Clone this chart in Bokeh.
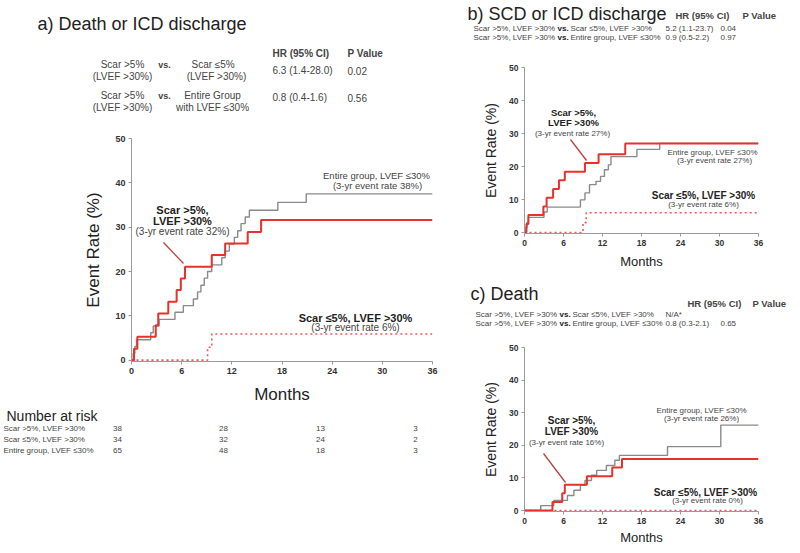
from bokeh.plotting import figure
from bokeh.models import Label, FixedTicker, Range1d
from bokeh.layouts import row, column
from bokeh.embed import file_html
from bokeh.resources import INLINE

FONT = "Liberation Sans"
RED = "#e8302c"
RED_DOT = "#e85a55"
GRAY = "#8a8a8a"
PTR = "#b8443e"
TXT = "#333333"
AXC = "#9a9a9a"
HC = "#444444"
DK = "#222222"
Y0 = -0.3

# ---------------- data (months, event rate %) ----------------
# a) Death or ICD discharge
a_red_t = [0.3, 0.7, 2.9, 3.2, 4.4, 5.4, 5.9, 6.4, 9.6, 11.2, 13.9, 15.5]
a_red_v = [2.6, 5.3, 7.9, 10.5, 13.2, 15.8, 18.4, 21.1, 23.7, 26.3, 28.9, 31.6]
a_gray_t = [0.2, 0.4, 0.6, 2.3, 2.6, 3.3, 5.2, 6.2, 7.4, 7.9, 8.3, 8.7, 9.1, 9.6,
            10.8, 11.2, 11.7, 12.3, 12.7, 13.1, 13.6, 14.1, 17.5, 20.9]
a_gray_v = [1.5, 3.1, 4.6, 6.2, 7.7, 9.2, 10.8, 12.3, 13.8, 15.4, 16.9, 18.5, 20.0, 21.5,
            23.1, 24.6, 26.2, 27.7, 29.2, 30.8, 32.3, 33.8, 35.6, 37.5]
a_dot_t = [9.1, 9.6]
a_dot_v = [2.9, 5.9]

# b) SCD or ICD discharge
b_red_t = [0.3, 0.6, 2.9, 3.4, 4.4, 5.3, 6.2, 9.3, 11.4, 15.5]
b_red_v = [2.6, 5.3, 7.9, 10.5, 13.2, 15.8, 18.4, 21.1, 23.7, 27.0]
b_gray_t = [0.2, 0.4, 0.6, 3.0, 3.5, 8.6, 9.3, 10.0, 11.0, 11.7, 12.3, 12.9, 13.3, 17.3, 20.8]
b_gray_v = [1.5, 3.1, 4.6, 6.2, 7.7, 9.9, 12.0, 14.5, 15.5, 17.0, 19.0, 20.5, 23.0, 25.2, 27.0]
b_dot_t = [9.0, 9.5]
b_dot_v = [3.0, 6.0]

# c) Death
c_red_t = [4.3, 5.8, 6.2, 9.6, 13.5, 15.0]
c_red_v = [2.6, 5.3, 7.9, 10.5, 13.2, 15.8]
c_gray_t = [2.5, 4.5, 6.6, 7.6, 8.6, 9.3, 10.3, 11.1, 12.6, 13.9, 14.6, 22.0, 30.2]
c_gray_v = [1.5, 3.1, 4.6, 6.2, 7.7, 9.2, 10.8, 12.3, 13.8, 15.4, 16.9, 19.6, 26.2]
c_dot_t = []
c_dot_v = []

x_ticks = [0, 6, 12, 18, 24, 30, 36]
y_ticks = [0, 10, 20, 30, 40, 50]

# number at risk
risk_groups = ["Scar >5%, LVEF >30%", "Scar \u22645%, LVEF >30%", "Entire group, LVEF \u226430%"]
risk_scar_hi = [38, 28, 13, 3]
risk_scar_lo = [34, 32, 24, 2]
risk_entire = [65, 48, 18, 3]


def steps(t, v):
    xs = [0] + list(t) + [36]
    ys = [0] + list(v) + [v[-1] if v else 0]
    return xs, ys


def make_fig(fw, fh, bl, bt, br, bb, tick_size, lab_size_y, lab_size_x, y_stand, x_stand):
    p = figure(frame_width=fw, frame_height=fh, x_range=Range1d(0, 36), y_range=Range1d(Y0, 50),
               min_border_left=bl, min_border_top=bt, min_border_right=br, min_border_bottom=bb,
               output_backend="svg", toolbar_location=None, title=None)
    p.frame_align = False
    p.xaxis.ticker = FixedTicker(ticks=x_ticks)
    p.yaxis.ticker = FixedTicker(ticks=y_ticks)
    p.xgrid.visible = False
    p.ygrid.visible = False
    p.outline_line_color = None
    for ax in (p.xaxis[0], p.yaxis[0]):
        ax.minor_tick_line_color = None
        ax.major_tick_in = 0
        ax.major_tick_out = 3
        ax.axis_line_color = AXC
        ax.major_tick_line_color = AXC
        ax.major_label_text_font = FONT
        ax.major_label_text_font_style = "bold"
        ax.major_label_text_font_size = tick_size
        ax.major_label_text_color = TXT
        ax.major_label_standoff = 3
        ax.axis_label_text_font = FONT
        ax.axis_label_text_font_style = "normal"
        ax.axis_label_text_color = DK
    p.yaxis.axis_label = "Event Rate (%)"
    p.xaxis.axis_label = "Months"
    p.yaxis.axis_label_text_font_size = lab_size_y
    p.xaxis.axis_label_text_font_size = lab_size_x
    p.yaxis.axis_label_standoff = y_stand
    p.xaxis.axis_label_standoff = x_stand
    return p


def text_fig(w, h, x0, y0):
    # a blank canvas whose data coordinates equal the reference's pixel coordinates
    p = figure(width=w, height=h, x_range=Range1d(x0, x0 + w), y_range=Range1d(y0 + h, y0),
               x_axis_type=None, y_axis_type=None, min_border=0,
               output_backend="svg", toolbar_location=None, title=None)
    p.frame_align = False
    p.grid.visible = False
    p.outline_line_color = None
    return p


def conv(geo, ix, iy):
    if geo is None:
        return ix, iy
    fl, ft, fw, fh = geo
    return (ix - fl) / fw * 36.0, Y0 + (ft + fh - iy) / fh * (50 - Y0)


def lab(p, geo, ix, iy, text, size, bold=False, align="left", color=TXT):
    x, y = conv(geo, ix, iy)
    p.add_layout(Label(x=x, y=y, text=text, text_font=FONT, text_font_size=f"{size}px",
                       text_font_style="bold" if bold else "normal", text_color=color,
                       text_align=align, text_baseline="middle"))


def add_curves(p, red, gray, dot, ptr, geo):
    xs, ys = steps(*gray)
    p.step(xs, ys, mode="after", line_color=GRAY, line_width=1.4)
    xs, ys = steps(*dot)
    p.step(xs, ys, mode="after", line_color=RED_DOT, line_width=1.6, line_dash="2 3")
    xs, ys = steps(*red)
    p.step(xs, ys, mode="after", line_color=RED, line_width=2.0)
    (x0, y0), (x1, y1) = conv(geo, *ptr[0]), conv(geo, *ptr[1])
    p.segment(x0=[x0], y0=[y0], x1=[x1], y1=[y1], line_color=PTR, line_width=1.3)


# ================= left column: panel a =================
ha = text_fig(440, 128, 0, 0)
lab(ha, None, 37, 23, "a) Death or ICD discharge", 18, color=DK)
lab(ha, None, 272, 53, "HR (95% CI)", 10, True, color=HC)
lab(ha, None, 347, 53, "P Value", 10, True, color=HC)
lab(ha, None, 122, 64, "Scar >5%", 10, align="center", color=HC)
lab(ha, None, 122, 76, "(LVEF >30%)", 10, align="center", color=HC)
lab(ha, None, 164, 64, "vs.", 9, True, align="center", color=HC)
lab(ha, None, 214, 64, "Scar  \u22645%", 10, align="center", color=HC)
lab(ha, None, 216, 76, "(LVEF >30%)", 10, align="center", color=HC)
lab(ha, None, 272, 70, "6.3 (1.4-28.0)", 10, color=HC)
lab(ha, None, 347, 70, "0.02", 10, color=HC)
lab(ha, None, 122, 95, "Scar >5%", 10, align="center", color=HC)
lab(ha, None, 122, 107, "(LVEF >30%)", 10, align="center", color=HC)
lab(ha, None, 164, 95, "vs.", 9, True, align="center", color=HC)
lab(ha, None, 212, 95, "Entire Group", 10, align="center", color=HC)
lab(ha, None, 212, 107, "with LVEF \u226430%", 10, align="center", color=HC)
lab(ha, None, 272, 97, "0.8 (0.4-1.6)", 10, color=HC)
lab(ha, None, 347, 97, "0.56", 10, color=HC)

GA = (131, 138, 301, 223)
pa = make_fig(301, 223, 131, 10, 8, 48, "9px", "17px", "17px", 9, 8)
add_curves(pa, (a_red_t, a_red_v), (a_gray_t, a_gray_v), (a_dot_t, a_dot_v),
           [(163, 242), (183, 263)], GA)
lab(pa, GA, 376, 175, "Entire group, LVEF \u226430%", 9.5, align="center", color=HC)
lab(pa, GA, 377, 185, "(3-yr event rate 38%)", 9.5, align="center", color=HC)
lab(pa, GA, 182, 209, "Scar >5%,", 11, True, align="center", color=DK)
lab(pa, GA, 182, 220, "LVEF >30%", 11, True, align="center", color=DK)
lab(pa, GA, 182, 231, "(3-yr event rate 32%)", 10, align="center", color=HC)
lab(pa, GA, 355, 317, "Scar \u22645%, LVEF >30%", 11, True, align="center", color=DK)
lab(pa, GA, 355, 327, "(3-yr event rate 6%)", 10, align="center", color=HC)

ra = text_fig(440, 62, 0, 409)
lab(ra, None, 6, 415, "Number at risk", 14, color=DK)
risk_cols = [117, 223, 320, 415]
risk_rows = [428, 439, 450]
for gi, (g, vals) in enumerate(zip(risk_groups, [risk_scar_hi, risk_scar_lo, risk_entire])):
    lab(ra, None, 3, risk_rows[gi], g, 8, color=HC)
    for ci, v in enumerate(vals):
        lab(ra, None, risk_cols[ci], risk_rows[gi], str(v), 8, align="center", color=HC)

# ================= right column: panels b and c =================
hb = text_fig(360, 45, 440, 0)
lab(hb, None, 467, 13, "b) SCD or ICD discharge", 18, color=DK)
lab(hb, None, 675, 15, "HR (95% CI)", 9.5, True, color=HC)
lab(hb, None, 742, 15, "P Value", 9.5, True, color=HC)
lab(hb, None, 473, 28, "Scar >5%, LVEF >30%", 8, color=HC)
lab(hb, None, 557, 28, "vs.", 8, True, color=DK)
lab(hb, None, 570, 28, "Scar \u22645%, LVEF >30%", 8, color=HC)
lab(hb, None, 665, 28, "5.2 (1.1-23.7)", 8, color=HC)
lab(hb, None, 720, 28, "0.04", 8, color=HC)
lab(hb, None, 473, 37, "Scar >5%, LVEF >30%", 8, color=HC)
lab(hb, None, 557, 37, "vs.", 8, True, color=DK)
lab(hb, None, 570, 37, "Entire group, LVEF \u226430%", 8, color=HC)
lab(hb, None, 665, 37, "0.9 (0.5-2.2)", 8, color=HC)
lab(hb, None, 720, 37, "0.97", 8, color=HC)

GB = (524, 67, 234, 166)
pb = make_fig(234, 166, 84, 22, 42, 45, "8.5px", "14px", "13px", 7, 5)
add_curves(pb, (b_red_t, b_red_v), (b_gray_t, b_gray_v), (b_dot_t, b_dot_v),
           [(570, 139), (586, 160)], GB)
lab(pb, GB, 573, 112, "Scar >5%,", 9.5, True, align="center", color=DK)
lab(pb, GB, 573, 122, "LVEF >30%", 9.5, True, align="center", color=DK)
lab(pb, GB, 572, 133, "(3-yr event rate 27%)", 8, align="center", color=HC)
lab(pb, GB, 712, 152, "Entire group, LVEF \u226430%", 8, align="center", color=HC)
lab(pb, GB, 714, 160, "(3-yr event rate 27%)", 8, align="center", color=HC)
lab(pb, GB, 703, 195, "Scar \u22645%, LVEF >30%", 10, True, align="center", color=DK)
lab(pb, GB, 703, 204, "(3-yr event rate 6%)", 8, align="center", color=HC)

hc = text_fig(360, 59, 440, 278)
lab(hc, None, 470, 293, "c) Death", 18, color=DK)
lab(hc, None, 687, 303, "HR (95% CI)", 9.5, True, color=HC)
lab(hc, None, 752, 303, "P Value", 9.5, True, color=HC)
lab(hc, None, 475, 314, "Scar >5%, LVEF >30%", 8, color=HC)
lab(hc, None, 559, 314, "vs.", 8, True, color=DK)
lab(hc, None, 572, 314, "Scar \u22645%, LVEF >30%", 8, color=HC)
lab(hc, None, 665, 314, "N/A*", 8, color=HC)
lab(hc, None, 475, 323, "Scar >5%, LVEF >30%", 8, color=HC)
lab(hc, None, 559, 323, "vs.", 8, True, color=DK)
lab(hc, None, 572, 323, "Entire group, LVEF \u226430%", 8, color=HC)
lab(hc, None, 665, 323, "0.8 (0.3-2.1)", 8, color=HC)
lab(hc, None, 720, 323, "0.65", 8, color=HC)

GC = (524, 347, 234, 164)
pc = make_fig(234, 164, 84, 10, 42, 40, "8.5px", "14px", "13px", 7, 3)
add_curves(pc, (c_red_t, c_red_v), (c_gray_t, c_gray_v), (c_dot_t, c_dot_v),
           [(543, 453), (565, 482)], GC)
lab(pc, GC, 701, 410, "Entire group, LVEF \u226430%", 8, align="center", color=HC)
lab(pc, GC, 701, 418, "(3-yr event rate 26%)", 8, align="center", color=HC)
lab(pc, GC, 571, 420, "Scar >5%,", 10, True, align="center", color=DK)
lab(pc, GC, 571, 431, "LVEF >30%", 10, True, align="center", color=DK)
lab(pc, GC, 566, 442, "(3-yr event rate 16%)", 8, align="center", color=HC)
lab(pc, GC, 705, 492, "Scar \u22645%, LVEF >30%", 10, True, align="center", color=DK)
lab(pc, GC, 707, 500, "(3-yr event rate 0%)", 8, align="center", color=HC)

layout = row(column(ha, pa, ra), column(hb, pb, hc, pc))
open("out.html", "w").write(file_html(layout, INLINE))
